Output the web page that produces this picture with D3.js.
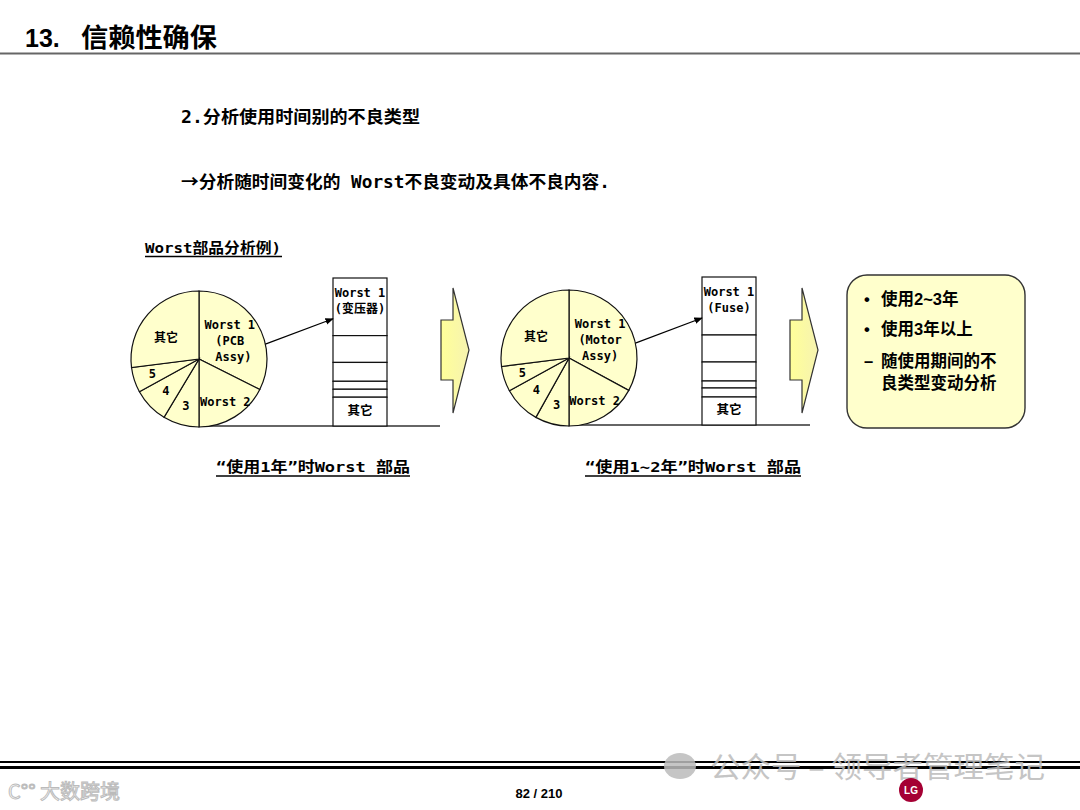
<!DOCTYPE html>
<html>
<head>
<meta charset="utf-8">
<script src="https://cdn.jsdelivr.net/npm/d3@7"></script>
<style>
  body { margin: 0; background: #fff; }
  svg { display: block; }
</style>
</head>
<body>
<svg id="chart"></svg>
<script>
// pie slices (clockwise from 12 o'clock), approx shares
const pieNames = ["Worst 1", "Worst 2", "3", "4", "5", "其它"]
const pie1Values = [32.4, 17.6, 8.6, 8.4, 6.0, 27.0]
const pie2Values = [32.9, 17.1, 8.1, 8.9, 6.0, 27.0]

// stacked column (top to bottom)
const bar1Values = [58, 27, 19, 8, 8, 29]
const bar2Values = [58, 27, 19, 7, 9, 28]

const pie1Labels = [["Worst 1", "(PCB", " Assy)"], ["Worst 2"], ["3"], ["4"], ["5"], ["其它"]]
const pie2Labels = [["Worst 1", "(Motor", "Assy)"], ["Worst 2"], ["3"], ["4"], ["5"], ["其它"]]
const bar1Top = ["Worst 1", "(变压器)"]
const bar2Top = ["Worst 1", "(Fuse)"]
const captions = ["“使用1年”时Worst 部品", "“使用1~2年”时Worst 部品"]
const boxLines = ["使用2~3年", "使用3年以上", "随使用期间的不", "良类型变动分析"]

const W = 1080, H = 810
const FONT = "'DejaVu Sans Mono', 'Noto Sans CJK SC', monospace"
const FILL = "#FFFFCC"

const svg = d3.select("#chart").attr("width", W).attr("height", H)

// header
svg.append("text").attr("x", 25).attr("y", 47)
  .style("font-family", "'Liberation Sans'")
  .style("font-size", "25px").style("font-weight", "bold")
  .text("13.")
svg.append("text").attr("x", 81).attr("y", 47)
  .attr("textLength", 136).attr("lengthAdjust", "spacingAndGlyphs")
  .style("font-family", "'Noto Sans CJK SC'")
  .style("font-size", "26px").style("font-weight", "bold")
  .text("信赖性确保")
svg.append("line").attr("x1", 0).attr("x2", W).attr("y1", 53.5).attr("y2", 53.5)
  .attr("stroke", "#666").attr("stroke-width", 2)

svg.append("text").attr("x", 181).attr("y", 123)
  .attr("textLength", 239).attr("lengthAdjust", "spacingAndGlyphs")
  .style("font-family", FONT).style("font-size", "17px").style("font-weight", "bold")
  .text("2.分析使用时间别的不良类型")
const l2 = svg.append("text").attr("x", 181).attr("y", 188)
  .attr("textLength", 429).attr("lengthAdjust", "spacingAndGlyphs")
  .style("font-family", FONT).style("font-size", "17px").style("font-weight", "bold")
l2.append("tspan").style("font-family", "'Noto Sans CJK SC'").text("→")
l2.append("tspan").text("分析随时间变化的 Worst不良变动及具体不良内容.")

svg.append("text").attr("x", 145).attr("y", 253)
  .attr("textLength", 136).attr("lengthAdjust", "spacingAndGlyphs")
  .style("font-family", FONT).style("font-size", "14.5px").style("font-weight", "bold")
  .text("Worst部品分析例)")
svg.append("line").attr("x1", 145).attr("x2", 282).attr("y1", 256.5).attr("y2", 256.5)
  .attr("stroke", "#000").attr("stroke-width", 1.3)

// arrow marker
svg.append("defs").append("marker").attr("id", "ah")
  .attr("viewBox", "0 0 10 10").attr("refX", 9).attr("refY", 5)
  .attr("markerWidth", 7).attr("markerHeight", 7).attr("orient", "auto")
  .append("path").attr("d", "M0,1 L10,5 L0,9 Z").attr("fill", "#000")

const grad = svg.select("defs").append("linearGradient").attr("id", "ag")
  .attr("x1", 0).attr("x2", 1).attr("y1", 0).attr("y2", 0)
grad.append("stop").attr("offset", "0%").attr("stop-color", "#FFFF99")
grad.append("stop").attr("offset", "100%").attr("stop-color", "#F6F3B0")

function drawGroup(cfg) {
  const g = svg.append("g")
  const pie = d3.pie().sort(null).value(d => d)
  const arcs = pie(cfg.pieValues)
  const arc = d3.arc().innerRadius(0).outerRadius(cfg.r)

  // baseline
  g.append("line").attr("x1", cfg.cx).attr("x2", cfg.baseEnd)
    .attr("y1", cfg.base).attr("y2", cfg.base)
    .attr("stroke", "#333").attr("stroke-width", 1.3)

  const pg = g.append("g").attr("transform", `translate(${cfg.cx},${cfg.cy})`)
  pg.selectAll("path").data(arcs).join("path")
    .attr("d", arc).attr("fill", FILL)
    .attr("stroke", "#111").attr("stroke-width", 1.2)

  // label distance from centre, and sideways nudge
  const lr = [35, 50, 49, 46, 49, 40]
  const dx = [1, 0, 0, 0, 0, -3]
  const dy = [0, 0, 0, 0, 0, 5]
  pg.selectAll("text.lab").data(arcs).join("text").attr("class", "lab")
    .attr("transform", (d, i) => {
      const a = (d.startAngle + d.endAngle) / 2
      return `translate(${Math.sin(a) * lr[i] + dx[i]},${-Math.cos(a) * lr[i] + dy[i]})`
    })
    .style("font-family", FONT).style("font-size", "12px").style("font-weight", "bold")
    .attr("text-anchor", "middle")
    .each(function (d, i) {
      const lines = cfg.pieLabels[i]
      const t = d3.select(this)
      lines.forEach((s, j) => {
        t.append("tspan").attr("x", 0)
          .attr("y", (j - (lines.length - 1) / 2) * 16 + 4)
          .text(s)
      })
    })

  // stacked column
  const total = d3.sum(cfg.barValues)
  const y = d3.scaleLinear().domain([0, total]).range([cfg.barTop, cfg.base])
  const stacks = d3.cumsum(cfg.barValues)
  const segs = cfg.barValues.map((v, i) => ({ y0: stacks[i] - v, y1: stacks[i] }))
  g.selectAll("rect.seg").data(segs).join("rect").attr("class", "seg")
    .attr("x", cfg.barX).attr("width", cfg.barW)
    .attr("y", d => y(d.y0)).attr("height", d => y(d.y1) - y(d.y0))
    .attr("fill", "#fff").attr("stroke", "#111").attr("stroke-width", 1.2)

  const tt = g.append("text").attr("text-anchor", "middle")
    .style("font-family", FONT).style("font-size", "12px").style("font-weight", "bold")
  cfg.barTop2.forEach((s, j) => {
    tt.append("tspan").attr("x", cfg.barX + cfg.barW / 2)
      .attr("y", y(0) + 19 + j * 16).text(s)
  })
  g.append("text").attr("text-anchor", "middle")
    .attr("x", cfg.barX + cfg.barW / 2)
    .attr("y", (y(segs[5].y0) + y(segs[5].y1)) / 2 + 3)
    .style("font-family", FONT).style("font-size", "12.5px").style("font-weight", "bold")
    .text("其它")

  // pointer from pie to column
  const a0 = Math.PI * 0.43
  g.append("line")
    .attr("x1", cfg.cx + Math.sin(a0) * cfg.r).attr("y1", cfg.cy - Math.cos(a0) * cfg.r)
    .attr("x2", cfg.barX).attr("y2", y(41))
    .attr("stroke", "#000").attr("stroke-width", 1.2).attr("marker-end", "url(#ah)")

  // caption
  g.append("text").attr("x", cfg.capX).attr("y", 472)
    .attr("textLength", cfg.capW).attr("lengthAdjust", "spacingAndGlyphs")
    .style("font-family", FONT).style("font-size", "14.5px").style("font-weight", "bold")
    .text(cfg.caption)
  g.append("line").attr("x1", cfg.capX).attr("x2", cfg.capX + cfg.capW)
    .attr("y1", 476).attr("y2", 476).attr("stroke", "#000").attr("stroke-width", 1.3)
}

drawGroup({
  cx: 199, cy: 359, r: 68, base: 426, baseEnd: 440,
  pieValues: pie1Values, pieLabels: pie1Labels,
  barValues: bar1Values, barX: 333, barW: 54, barTop: 278, barTop2: bar1Top,
  capX: 216, capW: 194, caption: captions[0]
})
drawGroup({
  cx: 569, cy: 358, r: 68, base: 425, baseEnd: 810,
  pieValues: pie2Values, pieLabels: pie2Labels,
  barValues: bar2Values, barX: 702, barW: 54, barTop: 277, barTop2: bar2Top,
  capX: 585, capW: 216, caption: captions[1]
})

// big block arrows
function blockArrow(x) {
  const p = d3.path()
  p.moveTo(x, 320); p.lineTo(x + 12, 320); p.lineTo(x + 12, 288)
  p.lineTo(x + 28, 350); p.lineTo(x + 12, 413); p.lineTo(x + 12, 380)
  p.lineTo(x, 380); p.closePath()
  svg.append("path").attr("d", p.toString()).attr("fill", "url(#ag)")
    .attr("stroke", "#333").attr("stroke-width", 1.2)
}
blockArrow(441)
blockArrow(790)

// summary box
svg.append("rect").attr("x", 847).attr("y", 275).attr("width", 178).attr("height", 153)
  .attr("rx", 20).attr("fill", FILL).attr("stroke", "#333").attr("stroke-width", 1.4)
const bx = svg.append("g")
  .style("font-family", "'Liberation Sans', 'Noto Sans CJK SC'")
  .style("font-size", "16.5px").style("font-weight", "bold")
const marks = ["•", "•", "–", ""]
const ys = [305, 335, 367, 389]
boxLines.forEach((s, i) => {
  bx.append("text").attr("x", 864).attr("y", ys[i]).text(marks[i])
  bx.append("text").attr("x", 881).attr("y", ys[i]).text(s)
})

// footer
svg.append("line").attr("x1", 0).attr("x2", W).attr("y1", 762).attr("y2", 762)
  .attr("stroke", "#000").attr("stroke-width", 2)
svg.append("line").attr("x1", 0).attr("x2", W).attr("y1", 767.5).attr("y2", 767.5)
  .attr("stroke", "#000").attr("stroke-width", 3)
svg.append("text").attr("x", 539).attr("y", 798).attr("text-anchor", "middle")
  .style("font-family", "'Liberation Sans Narrow', 'Liberation Sans'")
  .style("font-size", "13px").style("font-weight", "bold")
  .text("82 / 210")

// watermarks
svg.append("text").attr("x", 710).attr("y", 778)
  .attr("textLength", 335).attr("lengthAdjust", "spacingAndGlyphs")
  .style("font-family", "'Noto Sans CJK SC'").style("font-size", "29px")
  .attr("fill", "#bbb").attr("opacity", 0.85)
  .text("公众号 – 领导者管理笔记")
svg.append("ellipse").attr("cx", 680).attr("cy", 766).attr("rx", 16).attr("ry", 13)
  .attr("fill", "#bbb").attr("opacity", 0.85)
svg.append("text").attr("x", 8).attr("y", 799)
  .style("font-family", "'Noto Sans CJK SC'").style("font-size", "20px")
  .attr("fill", "#fff").attr("stroke", "#bbb").attr("stroke-width", 1)
  .text("C°° 大数跨境")

// LG mark
svg.append("circle").attr("cx", 911).attr("cy", 790).attr("r", 12).attr("fill", "#A50034")
svg.append("text").attr("x", 911).attr("y", 794).attr("text-anchor", "middle")
  .style("font-family", "'Liberation Sans'").style("font-size", "10px").style("font-weight", "bold")
  .attr("fill", "#fff").text("LG")
</script>
</body>
</html>
